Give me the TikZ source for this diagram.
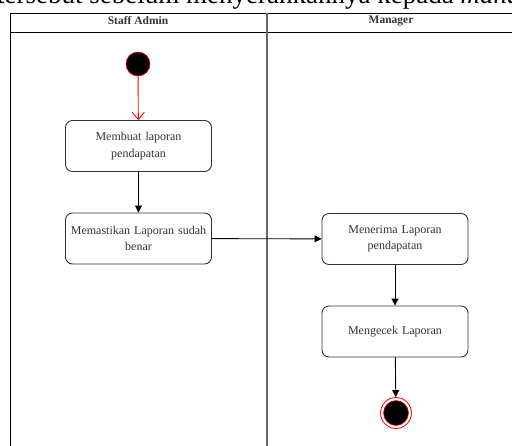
\documentclass[tikz,border=0pt]{standalone}
\usepackage{fontspec}
\setmainfont{Liberation Serif}
\usetikzlibrary{arrows.meta}
\definecolor{txt}{HTML}{333333}
\definecolor{startred}{HTML}{FF0000}
\tikzset{
  act/.style={draw=black!80, line width=0.9pt, rounded corners=7pt, minimum width=144pt, minimum height=51pt, align=center, font=\fontsize{12}{16.5}\selectfont, text=txt, inner sep=1pt, text width=144pt},
  flow/.style={draw=black, line width=0.9pt, -{Triangle[length=7pt,width=7pt]}},
  lane/.style={draw=black, line width=0.9pt},
  hdr/.style={font=\bfseries\fontsize{11.5}{13}\selectfont, text=txt}
}
\begin{document}
\begin{tikzpicture}[x=1pt,y=-1pt]
\useasboundingbox (0,0) rectangle (512,445);
\clip (0,0) rectangle (512,445);
% cropped text line at top
\node[anchor=base west, inner sep=0pt, font=\fontsize{27}{30}\selectfont] (topline) at (-3,3) {tersebut sebelum menyerahkannya kepada \textit{manager}};
% swimlanes
\draw[lane] (10,13) -- (520,13);
\draw[lane] (10,32) -- (520,32);
\draw[lane] (10,13) -- (10,450);
\draw[draw=black!60, line width=1.6pt] (267,13) -- (267,450);
\node[hdr] (h1) at (138,21) {Staff Admin};
\node[hdr] (h2) at (391,21) {Manager};
% start
\node[circle, fill=black, draw=startred, line width=0.6pt, minimum size=24pt, inner sep=0pt] (start) at (138,64) {};
\node[act] (a1) at (138.5,146) {Membuat laporan\\pendapatan};
\node[act] (a2) at (138.5,238.5) {Memastikan Laporan sudah\\benar};
\node[act] (a3) at (395,239) {Menerima Laporan\\pendapatan};
\node[act] (a4) at (395,331.5) {Mengecek Laporan};
% end
\node[circle, draw=startred, line width=0.8pt, fill=white, minimum size=31pt, inner sep=0pt] (endo) at (396,413) {};
\node[circle, fill=black, draw=startred, line width=0.5pt, minimum size=25pt, inner sep=0pt] (endi) at (396,413) {};
% flows
\draw[draw=startred, line width=0.9pt, -{Straight Barb[length=7pt,width=12pt]}] (start) -- (a1);
\draw[flow] (a1) -- (a2);
\draw[flow] (a2) -- (a3);
\draw[flow] (a3) -- (a4);
\draw[flow] (a4) -- (endo);
\end{tikzpicture}
\end{document}
